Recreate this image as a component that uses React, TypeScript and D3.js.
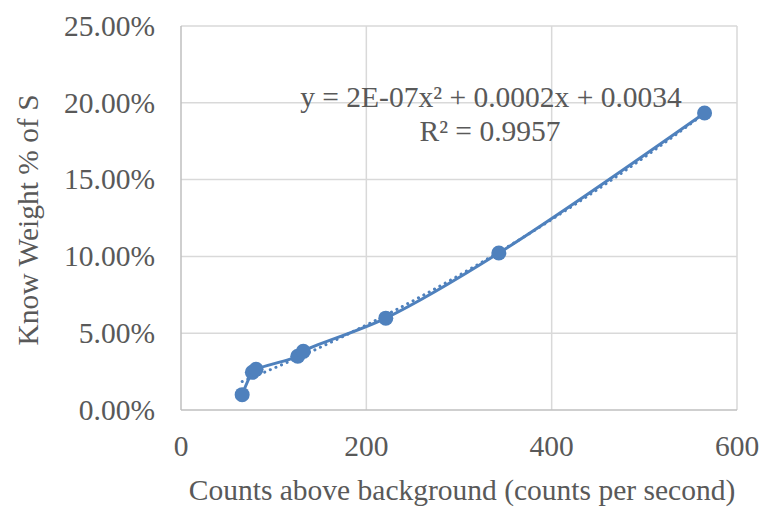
import { useRef, useEffect } from "react";
import * as d3 from "d3";

// counts above background (cps) and known weight fraction of S
const counts = [66, 77, 81, 126, 132, 221, 343, 565];
const weightS = [0.01, 0.0245, 0.0265, 0.035, 0.0382, 0.0598, 0.1022, 0.1934];
const xTicks = [0, 200, 400, 600];
const yTicks = [0, 0.05, 0.1, 0.15, 0.2, 0.25];
const equationText = "y = 2E-07x² + 0.0002x + 0.0034";
const r2Text = "R² = 0.9957";

const width = 765;
const height = 508;
const margin = { top: 26, right: 28, bottom: 98, left: 181 };
const blue = "#4f81bd";
const textColor = "#595959";
const font = "'Times New Roman', 'Liberation Serif', serif";
const fontSize = 29.5;

// least squares quadratic fit, like Excel's polynomial trendline
function fitQuadratic(xs: number[], ys: number[]) {
  const s = [0, 0, 0, 0, 0];
  const t = [0, 0, 0];
  xs.forEach((x, i) => {
    for (let k = 0; k < 5; k++) s[k] += Math.pow(x, k);
    for (let k = 0; k < 3; k++) t[k] += ys[i] * Math.pow(x, k);
  });
  const m = [
    [s[0], s[1], s[2], t[0]],
    [s[1], s[2], s[3], t[1]],
    [s[2], s[3], s[4], t[2]],
  ];
  for (let i = 0; i < 3; i++) {
    for (let j = i + 1; j < 3; j++) {
      const f = m[j][i] / m[i][i];
      for (let k = i; k < 4; k++) m[j][k] -= f * m[i][k];
    }
  }
  const c = [0, 0, 0];
  for (let i = 2; i >= 0; i--) {
    let v = m[i][3];
    for (let k = i + 1; k < 3; k++) v -= m[i][k] * c[k];
    c[i] = v / m[i][i];
  }
  return (x: number) => c[0] + c[1] * x + c[2] * x * x;
}

const Chart = () => {
  const svgRef = useRef<SVGSVGElement>(null);

  useEffect(() => {
    const svg = d3.select(svgRef.current);
    svg.selectAll("*").remove();

    const x = d3
      .scaleLinear()
      .domain([0, 600])
      .range([margin.left, width - margin.right]);
    const y = d3
      .scaleLinear()
      .domain([0, 0.25])
      .range([height - margin.bottom, margin.top]);

    const data = counts.map((c, i) => ({ x: c, y: weightS[i] }));

    // grid
    svg
      .append("g")
      .selectAll("line")
      .data(yTicks.slice(1))
      .enter()
      .append("line")
      .attr("x1", x(0))
      .attr("x2", x(600))
      .attr("y1", (d) => y(d))
      .attr("y2", (d) => y(d))
      .attr("stroke", "#d9d9d9")
      .attr("stroke-width", 1.5);
    svg
      .append("g")
      .selectAll("line")
      .data(xTicks.slice(1))
      .enter()
      .append("line")
      .attr("x1", (d) => x(d))
      .attr("x2", (d) => x(d))
      .attr("y1", y(0))
      .attr("y2", y(0.25))
      .attr("stroke", "#d9d9d9")
      .attr("stroke-width", 1.5);

    // axis lines
    svg
      .append("line")
      .attr("x1", x(0))
      .attr("x2", x(600))
      .attr("y1", y(0))
      .attr("y2", y(0))
      .attr("stroke", "#bfbfbf")
      .attr("stroke-width", 1.5);
    svg
      .append("line")
      .attr("x1", x(0))
      .attr("x2", x(0))
      .attr("y1", y(0))
      .attr("y2", y(0.25))
      .attr("stroke", "#bfbfbf")
      .attr("stroke-width", 1.5);

    // tick labels
    svg
      .append("g")
      .selectAll("text")
      .data(yTicks)
      .enter()
      .append("text")
      .attr("x", 155)
      .attr("y", (d) => y(d))
      .attr("dy", "0.33em")
      .attr("text-anchor", "end")
      .attr("font-family", font)
      .attr("font-size", fontSize)
      .attr("fill", textColor)
      .text((d) => d3.format(".2%")(d));
    svg
      .append("g")
      .selectAll("text")
      .data(xTicks)
      .enter()
      .append("text")
      .attr("x", (d) => x(d))
      .attr("y", 456)
      .attr("text-anchor", "middle")
      .attr("font-family", font)
      .attr("font-size", fontSize)
      .attr("fill", textColor)
      .text((d) => d);

    // axis titles
    svg
      .append("text")
      .attr("x", 462)
      .attr("y", 500)
      .attr("text-anchor", "middle")
      .attr("font-family", font)
      .attr("font-size", fontSize)
      .attr("fill", textColor)
      .text("Counts above background (counts per second)");
    svg
      .append("text")
      .attr("transform", `translate(38,220) rotate(-90)`)
      .attr("text-anchor", "middle")
      .attr("font-family", font)
      .attr("font-size", fontSize)
      .attr("fill", textColor)
      .text("Know Weight % of S");

    // trendline
    const fit = fitQuadratic(counts, weightS);
    const [x0, x1] = d3.extent(counts) as [number, number];
    const trend = d3.range(x0, x1 + 0.5, 2).map((v) => ({ x: v, y: fit(v) }));
    const line = d3
      .line<{ x: number; y: number }>()
      .x((d) => x(d.x))
      .y((d) => y(d.y));
    svg
      .append("path")
      .datum(trend)
      .attr("d", line)
      .attr("fill", "none")
      .attr("stroke", blue)
      .attr("stroke-width", 3)
      .attr("stroke-dasharray", "0.1 6")
      .attr("stroke-linecap", "round");

    // smoothed series line
    svg
      .append("path")
      .datum(data)
      .attr("d", line.curve(d3.curveCatmullRom.alpha(0.5)))
      .attr("fill", "none")
      .attr("stroke", blue)
      .attr("stroke-width", 3);

    svg
      .append("g")
      .selectAll("circle")
      .data(data)
      .enter()
      .append("circle")
      .attr("cx", (d) => x(d.x))
      .attr("cy", (d) => y(d.y))
      .attr("r", 7.5)
      .attr("fill", blue);

    // trendline label
    svg
      .append("text")
      .attr("x", 491)
      .attr("y", 107)
      .attr("text-anchor", "middle")
      .attr("font-family", font)
      .attr("font-size", fontSize)
      .attr("fill", textColor)
      .text(equationText);
    svg
      .append("text")
      .attr("x", 490)
      .attr("y", 141)
      .attr("text-anchor", "middle")
      .attr("font-family", font)
      .attr("font-size", fontSize)
      .attr("fill", textColor)
      .text(r2Text);
  }, []);

  return (
    <svg
      ref={svgRef}
      width={width}
      height={height}
      style={{ position: "absolute", left: 0, top: 0, background: "#fff" }}
    ></svg>
  );
};

export default function App() {
  return <Chart />;
}
